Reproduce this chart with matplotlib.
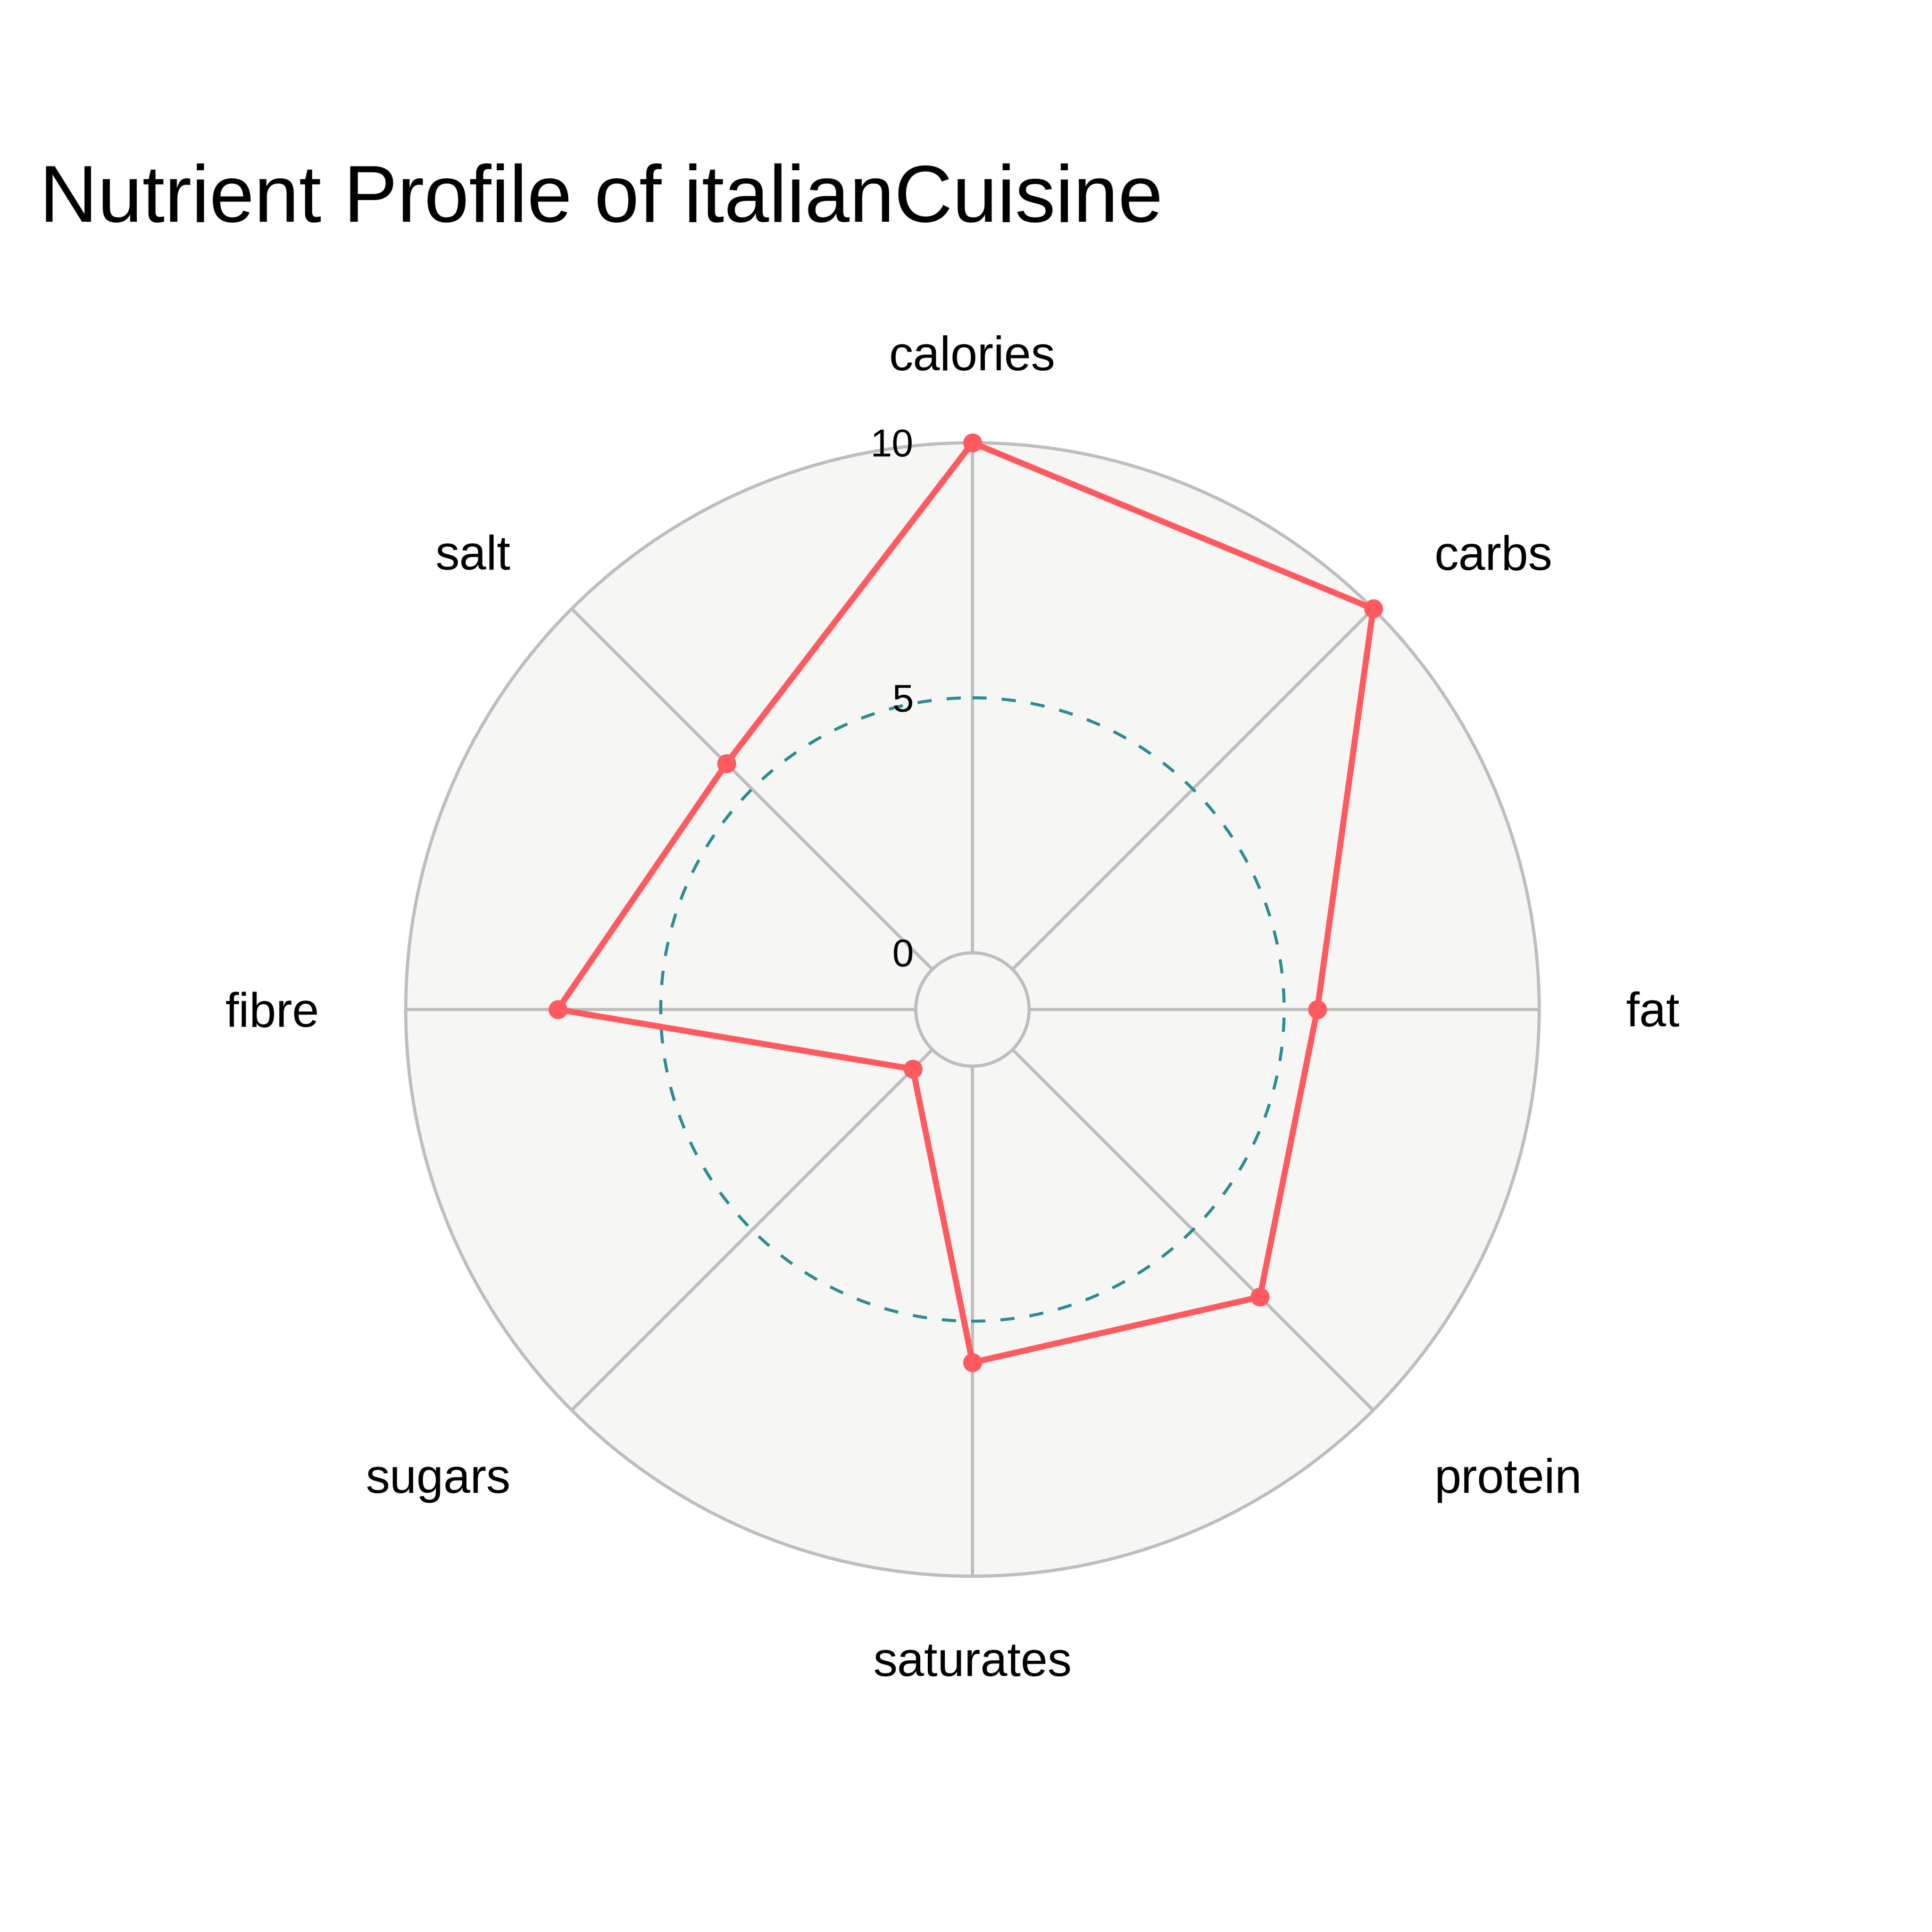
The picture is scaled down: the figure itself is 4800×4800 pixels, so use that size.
import numpy as np
import matplotlib
matplotlib.use("Agg")
import matplotlib.pyplot as plt
from matplotlib.transforms import offset_copy
from matplotlib.patches import Circle

# ---------------- data ----------------
categories = ["calories", "carbs", "fat", "protein", "saturates", "sugars", "fibre", "salt"]
values = [10.0, 10.0, 5.65, 6.86, 5.81, 0.54, 7.02, 5.71]
radial_ticks = [0, 5, 10]
radial_tick_labels = ["0", "5", "10"]
title = "Nutrient Profile of italianCuisine"

# ---------------- style ----------------
DPI = 300
PX = 72.0 / DPI  # points per output pixel
RED = "#FF5A5F"
TEAL = "#2A8C94"
GRID = "#BEBEBE"
BG = "#F6F6F4"
FONT = ["Liberation Sans", "DejaVu Sans"]
plt.rcParams["font.family"] = FONT

fig = plt.figure(figsize=(16, 16), dpi=DPI, facecolor="white")
cx, cy, R = 2416 / 4800, 1 - 2508 / 4800, 1408 / 4800
ax = fig.add_axes([cx - R, cy - R, 2 * R, 2 * R], projection="polar")
ax.set_facecolor(BG)
ax.set_theta_zero_location("N")
ax.set_theta_direction(-1)

n = len(categories)
thetas = np.arange(n) * 2 * np.pi / n
ax.set_ylim(0, 10)
ax.set_rorigin(-10 / 9)

# gridlines
ax.set_xticks(thetas)
ax.set_xticklabels([])
ax.xaxis.grid(True, color=GRID, linewidth=8 * PX, linestyle="-")
ax.set_yticks([5])
ax.set_yticklabels([])
ax.yaxis.grid(True, color=TEAL, linewidth=7.5 * PX, linestyle=(0, (4.7, 5.0)))
ax.tick_params(axis="both", length=0)
for sp in ax.spines.values():
    sp.set_edgecolor(GRID)
    sp.set_linewidth(8 * PX)

# fill the centre hole with the background colour
hole = Circle((0.5, 0.5), 0.05, transform=ax.transAxes, facecolor=BG,
              edgecolor="none", clip_on=False, zorder=0)
ax.add_patch(hole)

# data trace
th_closed = np.append(thetas, thetas[0])
v_closed = np.append(values, values[0])
ax.plot(th_closed, v_closed, color=RED, linewidth=15 * PX, solid_joinstyle="round",
        zorder=5, clip_on=False)
ax.plot(thetas, values, linestyle="none", marker="o", markersize=47 * PX,
        color=RED, markeredgewidth=0, zorder=6, clip_on=False)

# angular labels (plotly-like anchoring)
FS_CAT = 120 * PX
Ph = 215 * PX
A_top = 180 * PX
A_bot = 248 * PX
B = 42 * PX
for lab, th in zip(categories, thetas):
    ang = np.pi / 2 - th
    c, s = np.cos(ang), np.sin(ang)
    if abs(c) < 0.1:
        ha = "center"
    else:
        ha = "left" if c > 0 else "right"
    dx = c * Ph
    A = A_top if s > 0 else A_bot
    down = -s * A + abs(c) * B
    tr = offset_copy(ax.transData, fig=fig, x=dx, y=-down, units="points")
    ax.text(th, 10, lab, transform=tr, ha=ha, va="baseline", fontsize=FS_CAT,
            color="black", clip_on=False)

# radial tick labels
FS_TICK = 96 * PX
for v, lab in zip(radial_ticks, radial_tick_labels):
    tr = offset_copy(ax.transData, fig=fig, x=-146 * PX, y=-34 * PX, units="points")
    ax.text(0, v, lab, transform=tr, ha="right", va="baseline", fontsize=FS_TICK,
            color="black", clip_on=False, zorder=7)

# title
fig.text(98 / 4800, 1 - 551 / 4800, title, ha="left", va="baseline",
         fontsize=200 * PX, color="black")

fig.savefig("out.png", dpi=DPI, facecolor="white")
